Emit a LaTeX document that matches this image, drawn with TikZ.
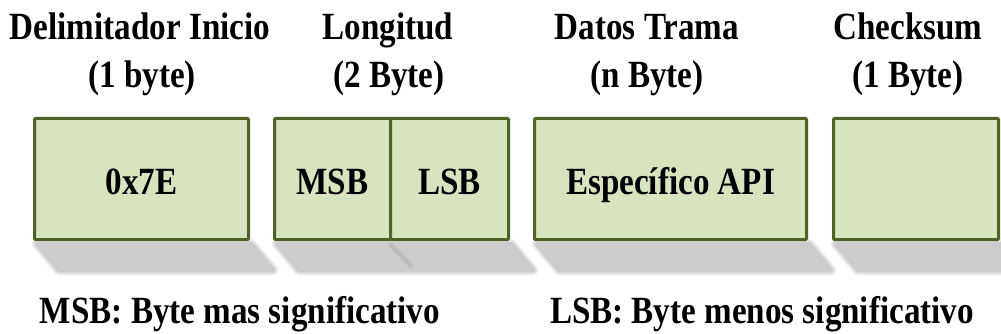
\documentclass[tikz,border=0pt]{standalone}
\usepackage{fontspec}
\usepackage{graphicx}
\setmainfont{Liberation Serif}
\definecolor{cellfill}{HTML}{D7E4BD}
\definecolor{celledge}{HTML}{4F6228}
\newcommand\narrowtxt[1]{\scalebox{0.86}[1]{#1}}
\tikzset{
  lbl/.style={anchor=base, inner sep=0pt, font=\fontsize{38.5}{44}\selectfont\bfseries},
  cell/.style={draw=celledge, fill=cellfill, line width=3pt, rounded corners=1pt,
    minimum height=121pt, inner sep=0pt, text height=31pt, text depth=0pt,
    anchor=north west, font=\fontsize{38.5}{44}\selectfont\bfseries},
}
% soft cast shadow under a cell: a slanted band with blurred edges
\newcommand\castshadow[2]{%
  \foreach \w in {11,9,7,5,3}
    \draw[line width=\w pt, black, opacity=0.045, line join=round]
      (#1+4,244) -- (#2+4,244) -- (#2+26,270) -- (#1+26,270) -- cycle;
  \fill[black!20] (#1+4,244) -- (#2+4,244) -- (#2+26,270) -- (#1+26,270) -- cycle;
}
\begin{document}
\begin{tikzpicture}[x=1pt, y=-1pt]
  \useasboundingbox (0,0) rectangle (1001,334);
  \clip (0,0) rectangle (1001,334);
  \fill[white] (0,0) rectangle (1001,334);

  % shadows
  \castshadow{33}{247}
  \castshadow{273}{507}
  \castshadow{533}{805}
  \castshadow{832}{997}
  \foreach \w in {5,3}
    \draw[line width=\w pt, black, opacity=0.05, line cap=round] (391,245) -- (411,266);
  \draw[line width=1.5pt, black!25, line cap=round] (391,245) -- (411,266);

  % frame fields
  \node[cell, minimum width=214pt] (delim) at (33,117) {\narrowtxt{0x7E}};
  \node[cell, minimum width=116pt] (msb) at (273,117) {\narrowtxt{MSB}};
  \node[cell, minimum width=118pt] (lsb) at (389,117) {\narrowtxt{LSB}};
  \node[cell, minimum width=272pt] (datos) at (533,117) {\narrowtxt{Específico API}};
  \node[cell, minimum width=165pt] (chk) at (832,117) {};

  % field headings
  \node[lbl] (h1a) at (140,40) {\narrowtxt{Delimitador Inicio}};
  \node[lbl] (h1b) at (142,88) {\narrowtxt{(1 byte)}};
  \node[lbl] (h2a) at (388,40) {\narrowtxt{Longitud}};
  \node[lbl] (h2b) at (389,88) {\narrowtxt{(2 Byte)}};
  \node[lbl] (h3a) at (647,40) {\narrowtxt{Datos Trama}};
  \node[lbl] (h3b) at (647,88) {\narrowtxt{(n Byte)}};
  \node[lbl] (h4a) at (908,40) {\narrowtxt{Checksum}};
  \node[lbl] (h4b) at (908,88) {\narrowtxt{(1 Byte)}};

  % legend
  \node[lbl] (leg1) at (240,323) {\narrowtxt{MSB: Byte mas significativo}};
  \node[lbl] (leg2) at (762,323) {\narrowtxt{LSB: Byte menos significativo}};
\end{tikzpicture}
\end{document}
